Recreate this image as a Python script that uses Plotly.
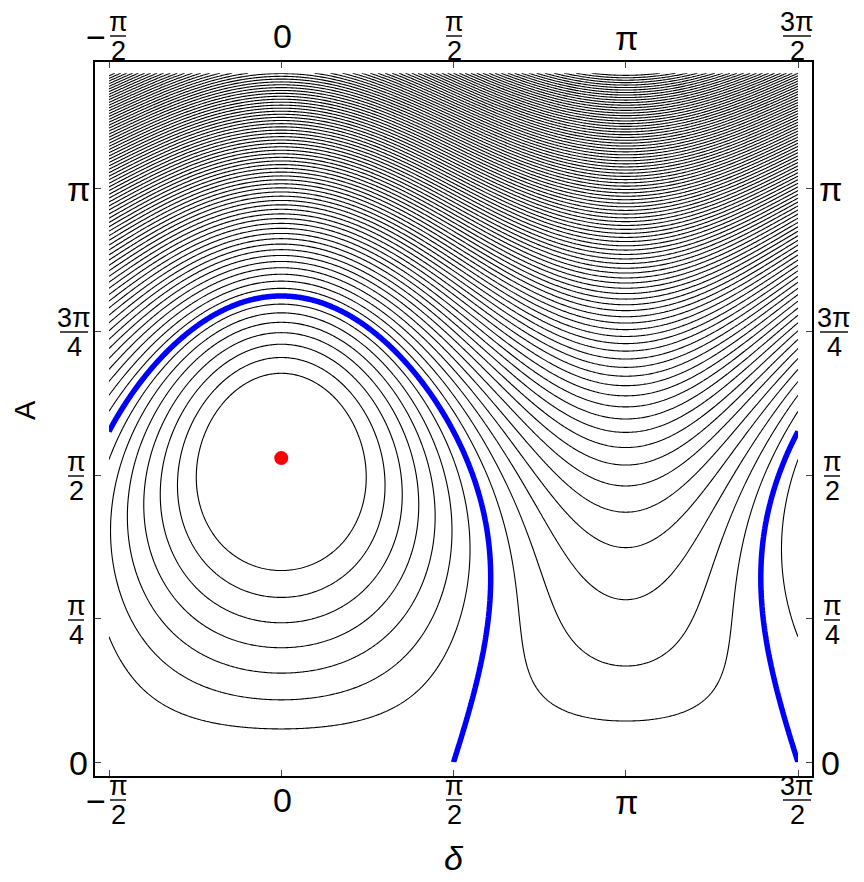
import numpy as np
import plotly.graph_objects as go

# Coefficients of H(A, δ) = A^4 + c3 A^3 - c2 A^2 - c6 A^6 - c1 A cos δ
# (separatrix through A≈1.81 at δ=±π/2 and A≈2.55 at δ=0, centre near A≈1.66,
#  contour spacing thinning towards the top)
C4 = 1.0
C3 = 0.5
C2 = 3.945
C6 = 0.022
C1 = 7.414
LEVEL_STEP = 1.48
LOWEST_LEVEL = -7 * LEVEL_STEP     # innermost closed orbit drawn
SEPARATRIX_LEVEL = 0.0

delta_range = [-np.pi / 2, 3 * np.pi / 2]
amp_range = [1e-4, 1.2 * np.pi]

# fixed point (red dot)
centre_delta = [0.0]
centre_amp = [1.664]

# frame ticks
x_tickvals = [-np.pi / 2, 0, np.pi / 2, np.pi, 3 * np.pi / 2]
y_tickvals = [0, np.pi / 4, np.pi / 2, 3 * np.pi / 4, np.pi]

delta = np.linspace(delta_range[0], delta_range[1], 541)
amp = np.linspace(amp_range[0], amp_range[1], 461)
D, A = np.meshgrid(delta, amp)
H = C4 * A**4 + C3 * A**3 - C2 * A**2 - C6 * A**6 - C1 * A * np.cos(D)

# page offset (body margin) and plot area, in screen pixels
OFF = 8
L, R, T, B = 95, 812, 62, 776
PW, PH = R - L, B - T
FONT = "Liberation Sans Narrow, Liberation Sans, Arial, sans-serif"
BIG = 34
SMALL = 27

fig = go.Figure()

fig.add_trace(go.Contour(
    x=delta, y=amp, z=H,
    contours=dict(start=LOWEST_LEVEL, end=float(H.max()), size=LEVEL_STEP, coloring="lines"),
    line=dict(width=1.1, smoothing=0),
    colorscale=[[0, "black"], [1, "black"]],
    showscale=False, hoverinfo="skip",
))
fig.add_trace(go.Contour(
    x=delta, y=amp, z=H,
    contours=dict(start=SEPARATRIX_LEVEL, end=SEPARATRIX_LEVEL + 0.1, size=1, coloring="lines"),
    line=dict(width=5.5, smoothing=0),
    colorscale=[[0, "#0000ff"], [1, "#0000ff"]],
    showscale=False, hoverinfo="skip",
))
fig.add_trace(go.Scatter(
    x=centre_delta, y=centre_amp, mode="markers",
    marker=dict(color="#ff0000", size=14), hoverinfo="skip", showlegend=False,
))


def px(x):
    return (x - L) / PW


def py(y):
    return (B - y) / PH


def text(x, y, s, size, **kw):
    fig.add_annotation(x=px(x), y=py(y), xref="paper", yref="paper", text=s,
                       showarrow=False, font=dict(family=FONT, size=size, color="black"),
                       xanchor="center", yanchor="middle", **kw)


def frac(x, y, num, den, minus=False):
    text(x, y - 14, num, SMALL)
    text(x, y + 15, den, SMALL)
    half = 8 if len(num) == 1 else 14
    fig.add_shape(type="line", xref="paper", yref="paper",
                  x0=px(x - half), x1=px(x + half), y0=py(y), y1=py(y),
                  line=dict(color="black", width=1.4))
    if minus:
        text(x - 22, y + 1, "−", BIG)


# bottom and top tick labels
for ycen in (800, 36):
    frac(118, ycen, "π", "2", minus=True)
    text(282, ycen, "0", BIG)
    frac(454, ycen, "π", "2")
    text(626, ycen + 2, "π", BIG)
    frac(797, ycen, "3π", "2")

# left and right tick labels
for xcen, sgn in ((78, -1), (830, 1)):
    text(xcen, 763, "0", BIG)
    frac(xcen + sgn * 2, 620, "π", "4")
    frac(xcen + sgn * 2, 476, "π", "2")
    frac(xcen + sgn * 4, 332, "3π", "4")
    text(xcen, 189, "π", BIG)

text(25, 410, "A", 29, textangle=-90)
text(454, 858, "<i>δ</i>", 34)

fig.update_layout(
    width=864 - OFF, height=882 - OFF,
    margin=dict(l=L - OFF, r=864 - R, t=T - OFF, b=882 - B),
    plot_bgcolor="white", paper_bgcolor="white",
    showlegend=False,
    xaxis=dict(range=[-1.6985, 4.840], showgrid=False, zeroline=False,
               tickvals=x_tickvals, ticks="inside", ticklen=6, tickwidth=1.2,
               showticklabels=False, showline=True, linecolor="black", linewidth=1.6,
               mirror="allticks"),
    yaxis=dict(range=[-0.075, 3.831], showgrid=False, zeroline=False,
               tickvals=y_tickvals, ticks="inside", ticklen=6, tickwidth=1.2,
               showticklabels=False, showline=True, linecolor="black", linewidth=1.6,
               mirror="allticks"),
)

fig.write_html("out.html")
